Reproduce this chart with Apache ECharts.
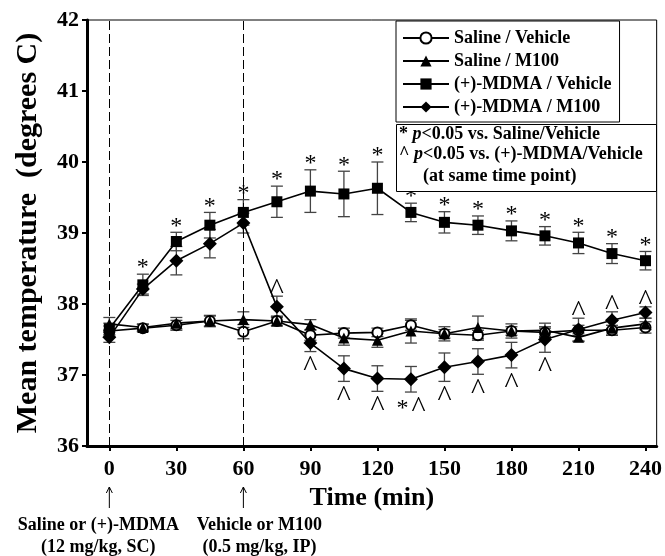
<!DOCTYPE html>
<html>
<head>
<meta charset="utf-8">
<script src="https://cdn.jsdelivr.net/npm/echarts@6/dist/echarts.min.js"></script>
<style>
  html, body { margin: 0; padding: 0; background: #fff; }
  #chart { width: 665px; height: 556px; }
</style>
</head>
<body>
<div id="chart"></div>
<script>
/* === Data === */
const TIMES = [0, 15, 30, 45, 60, 75, 90, 105, 120, 135, 150, 165, 180, 195, 210, 225, 240];

const SAL_VEH     = [37.62, 37.66, 37.70, 37.76, 37.61, 37.76, 37.56, 37.59, 37.60, 37.70, 37.58, 37.56, 37.62, 37.60, 37.63, 37.63, 37.67];
const SAL_VEH_ERR = [0.07, 0.05, 0.07, 0.07, 0.10, 0.06, 0.07, 0.07, 0.06, 0.07, 0.06, 0.07, 0.06, 0.06, 0.07, 0.07, 0.08];

const SAL_M100     = [37.72, 37.67, 37.73, 37.76, 37.78, 37.76, 37.71, 37.52, 37.49, 37.62, 37.58, 37.67, 37.62, 37.63, 37.53, 37.66, 37.72];
const SAL_M100_ERR = [0.09, 0.05, 0.08, 0.08, 0.11, 0.07, 0.07, 0.10, 0.10, 0.17, 0.10, 0.16, 0.10, 0.10, 0.06, 0.10, 0.08];

const MDMA_VEH     = [37.65, 38.27, 38.88, 39.11, 39.29, 39.44, 39.59, 39.55, 39.63, 39.29, 39.15, 39.11, 39.03, 38.96, 38.86, 38.71, 38.61];
const MDMA_VEH_ERR = [0.08, 0.15, 0.13, 0.18, 0.18, 0.22, 0.30, 0.32, 0.37, 0.13, 0.15, 0.13, 0.14, 0.13, 0.15, 0.14, 0.13];

const MDMA_M100     = [37.53, 38.21, 38.61, 38.85, 39.14, 37.96, 37.45, 37.09, 36.95, 36.94, 37.11, 37.19, 37.28, 37.50, 37.64, 37.77, 37.88];
const MDMA_M100_ERR = [0.07, 0.07, 0.20, 0.20, 0.14, 0.15, 0.12, 0.18, 0.18, 0.18, 0.20, 0.18, 0.18, 0.18, 0.16, 0.12, 0.08];

const X_TICKS = [0, 30, 60, 90, 120, 150, 180, 210, 240];
const INJECTION_TIMES = [0, 60];
const INJECTION_LABELS = [
  ['Saline or (+)-MDMA', '(12 mg/kg, SC)'],
  ['Vehicle or M100', '(0.5 mg/kg, IP)']
];

// significance marks
const STAR_TIMES = [15, 30, 45, 60, 75, 90, 105, 120, 135, 150, 165, 180, 195, 210, 225, 240];
const CARET_ABOVE = [75, 210, 225, 240];
const CARET_BELOW = [90, 105, 120, 150, 165, 180, 195];
const STAR_CARET_BELOW = [135];

const NAMES = ['Saline / Vehicle', 'Saline / M100', '(+)-MDMA / Vehicle', '(+)-MDMA / M100'];

/* === Style === */
const FONT = "'Liberation Serif', 'Times New Roman', serif";
const BOLD = (size) => `bold ${size}px ${FONT}`;

/* === Helpers === */
function lineSeries(name, vals, symbol, size) {
  const open = symbol === 'emptyCircle';
  return {
    name, type: 'line', z: 3,
    data: TIMES.map((t, i) => [t, vals[i]]),
    symbol, symbolSize: size,
    itemStyle: { color: '#000', borderColor: '#000', borderWidth: open ? 1.2 : 0 },
    lineStyle: { color: '#000', width: 1.6 },
    emphasis: { disabled: true },
    animation: false
  };
}

function errorSeries(vals, errs) {
  return {
    type: 'custom', z: 2, silent: true, animation: false,
    data: TIMES.map((t, i) => [t, vals[i] - errs[i], vals[i] + errs[i]]),
    encode: { x: 0, y: [1, 2] },
    renderItem: (params, api) => {
      const lo = api.coord([api.value(0), api.value(1)]);
      const hi = api.coord([api.value(0), api.value(2)]);
      const w = 6;
      const style = { stroke: '#444', lineWidth: 1.3 };
      return {
        type: 'group', children: [
          { type: 'line', shape: { x1: lo[0], y1: lo[1], x2: hi[0], y2: hi[1] }, style },
          { type: 'line', shape: { x1: lo[0] - w, y1: lo[1], x2: lo[0] + w, y2: lo[1] }, style },
          { type: 'line', shape: { x1: hi[0] - w, y1: hi[1], x2: hi[0] + w, y2: hi[1] }, style }
        ]
      };
    }
  };
}

// build marks anchored at error bar ends
const MARKS = [];
STAR_TIMES.forEach(t => {
  const i = TIMES.indexOf(t);
  MARKS.push({ t, y: MDMA_VEH[i] + MDMA_VEH_ERR[i], dir: 1, text: '{s|*}' });
});
CARET_ABOVE.forEach(t => {
  const i = TIMES.indexOf(t);
  MARKS.push({ t, y: MDMA_M100[i] + MDMA_M100_ERR[i], dir: 1, text: '{c|^}', caret: true });
});
CARET_BELOW.forEach(t => {
  const i = TIMES.indexOf(t);
  MARKS.push({ t, y: MDMA_M100[i] - MDMA_M100_ERR[i], dir: -1, text: '{c|^}', caret: true });
});
STAR_CARET_BELOW.forEach(t => {
  const i = TIMES.indexOf(t);
  MARKS.push({ t, y: MDMA_M100[i] - MDMA_M100_ERR[i], dir: -1, text: '{g|*}{c|^}' });
});

const MARK_RICH = {
  s: { font: `24px ${FONT}`, fill: '#000' },
  g: { font: `24px ${FONT}`, fill: '#000', padding: [0, 3, 0, 0] },
  c: { font: `30px ${FONT}`, fill: '#000' }
};

const markSeries = {
  type: 'custom', z: 4, silent: true, animation: false,
  data: MARKS.map(m => [m.t, m.y]),
  encode: { x: 0, y: 1 },
  renderItem: (params, api) => {
    const m = MARKS[params.dataIndex];
    const p = api.coord([api.value(0), api.value(1)]);
    return {
      type: 'text',
      x: p[0], y: m.dir > 0 ? p[1] + (m.caret ? 10 : 6) : p[1] + 2,
      style: {
        text: m.text, rich: MARK_RICH,
        align: 'center', verticalAlign: m.dir > 0 ? 'bottom' : 'top'
      }
    };
  },
  markLine: {
    silent: true, symbol: 'none', label: { show: false },
    lineStyle: { color: '#000', width: 1, type: [9, 4] },
    data: INJECTION_TIMES.map(t => ({ xAxis: t }))
  }
};

/* === Chart === */
const chart = echarts.init(document.getElementById('chart'));

chart.setOption({
  animation: false,
  backgroundColor: '#fff',
  textStyle: { fontFamily: FONT },
  grid: { left: 87, right: 7, top: 20, bottom: 110, show: true, borderColor: '#000', borderWidth: 1 },
  legend: {
    data: NAMES,
    orient: 'vertical',
    left: 396, top: 21,
    padding: [8, 8, 6, 6],
    itemWidth: 46, itemHeight: 14, itemGap: 5,
    borderColor: '#000', borderWidth: 1, backgroundColor: '#fff',
    textStyle: { fontFamily: FONT, fontWeight: 'bold', fontSize: 18, color: '#000', lineHeight: 18 },
    selectedMode: false
  },
  xAxis: {
    type: 'value', min: -10, max: 245,
    name: 'Time (min)', nameLocation: 'middle', nameGap: 35,
    nameTextStyle: { fontFamily: FONT, fontWeight: 'bold', fontSize: 26, color: '#000' },
    axisLine: { show: true, onZero: false, lineStyle: { color: '#000', width: 3 } },
    axisTick: { show: true, customValues: X_TICKS, length: 5, lineStyle: { color: '#000', width: 2 } },
    axisLabel: { customValues: X_TICKS, margin: 12, fontFamily: FONT, fontWeight: 'bold', fontSize: 22, color: '#000' },
    splitLine: { show: false }
  },
  yAxis: {
    type: 'value', min: 36, max: 42, interval: 1,
    name: 'Mean temperature  (degrees C)', nameLocation: 'middle', nameGap: 44,
    nameTextStyle: { fontFamily: FONT, fontWeight: 'bold', fontSize: 30, color: '#000' },
    axisLine: { show: true, onZero: false, lineStyle: { color: '#000', width: 3 } },
    axisTick: { show: true, length: 5, lineStyle: { color: '#000', width: 2 } },
    axisLabel: { margin: 8, fontFamily: FONT, fontWeight: 'bold', fontSize: 22, color: '#000' },
    splitLine: { show: false }
  },
  series: [
    errorSeries(SAL_VEH, SAL_VEH_ERR),
    errorSeries(SAL_M100, SAL_M100_ERR),
    errorSeries(MDMA_VEH, MDMA_VEH_ERR),
    errorSeries(MDMA_M100, MDMA_M100_ERR),
    lineSeries(NAMES[0], SAL_VEH, 'emptyCircle', 10),
    lineSeries(NAMES[1], SAL_M100, 'triangle', 11),
    lineSeries(NAMES[2], MDMA_VEH, 'rect', 11),
    lineSeries(NAMES[3], MDMA_M100, 'diamond', 14),
    markSeries
  ]
});

/* === Annotations (injection arrows + significance key) === */
function buildGraphics() {
  const g = [];
  const offsets = [-11, 16];
  INJECTION_TIMES.forEach((t, k) => {
    const x = chart.convertToPixel({ xAxisIndex: 0 }, t);
    g.push({ type: 'line', shape: { x1: x, y1: 508, x2: x, y2: 487 }, style: { stroke: '#000', lineWidth: 1 } });
    g.push({ type: 'polyline', shape: { points: [[x - 3, 493], [x, 487], [x + 3, 493]] }, style: { stroke: '#000', lineWidth: 1, fill: null } });
    INJECTION_LABELS[k].forEach((txt, j) => {
      g.push({
        type: 'text', x: x + offsets[k], y: 525 + j * 22,
        style: { text: txt, font: BOLD(18), fill: '#000', align: 'center', verticalAlign: 'middle' }
      });
    });
  });

  const rich = {
    a: { font: BOLD(18), fill: '#000' },
    i: { font: `italic bold 18px ${FONT}`, fill: '#000' }
  };
  g.push({ type: 'rect', shape: { x: 396.5, y: 124.5, width: 260, height: 67 }, style: { fill: '#fff', stroke: '#000', lineWidth: 1 }, z: 10 });
  g.push({ type: 'text', x: 399, y: 134, z: 11, style: { text: '{a|* }{i|p}{a|<0.05 vs. Saline/Vehicle}', rich, verticalAlign: 'middle' } });
  g.push({ type: 'text', x: 399, y: 154, z: 11, style: { text: '{a|^ }{i|p}{a|<0.05 vs. (+)-MDMA/Vehicle}', rich, verticalAlign: 'middle' } });
  g.push({ type: 'text', x: 423, y: 176, z: 11, style: { text: '(at same time point)', font: BOLD(18), fill: '#000', verticalAlign: 'middle' } });
  chart.setOption({ graphic: g });
}
buildGraphics();
</script>
</body>
</html>
